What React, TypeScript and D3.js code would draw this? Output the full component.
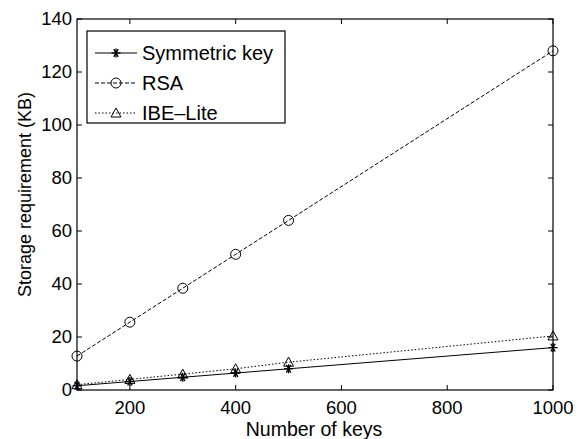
import React, { useEffect, useRef } from 'react';
import * as d3 from 'd3';

const keys = [100, 200, 300, 400, 500, 1000];
const symmetricKey = [1.6, 3.2, 4.8, 6.4, 8, 16];
const rsa = [12.8, 25.6, 38.4, 51.2, 64, 128];
const ibeLite = [2, 4, 6, 8, 10.5, 20.4];
const xTicks = [200, 400, 600, 800, 1000];
const yTicks = [0, 20, 40, 60, 80, 100, 120, 140];

const seriesList = [
    { name: 'Symmetric key', values: symmetricKey, dash: null, marker: 'star' },
    { name: 'RSA', values: rsa, dash: '4,2', marker: 'circle' },
    { name: 'IBE\u2013Lite', values: ibeLite, dash: '1.5,2', marker: 'triangle' },
];

const FONT = 'Liberation Sans, Arial, Helvetica, sans-serif';

const App = () => {
    const svgRef = useRef<SVGSVGElement>(null);

    useEffect(() => {
        const svg = d3.select(svgRef.current);
        svg.selectAll('*').remove();

        const width = 579;
        const height = 439;
        const margin = { top: 19, right: 26, bottom: 49, left: 77 };
        const innerW = width - margin.left - margin.right;
        const innerH = height - margin.top - margin.bottom;

        svg.attr('width', width).attr('height', height);

        const chart = svg.append('g')
            .attr('transform', `translate(${margin.left},${margin.top})`);

        const x = d3.scaleLinear().domain([100, 1000]).range([0, innerW]);
        const y = d3.scaleLinear().domain([0, 140]).range([innerH, 0]);

        // frame + inward ticks on all sides
        chart.append('rect')
            .attr('width', innerW).attr('height', innerH)
            .attr('fill', 'none').attr('stroke', '#000').attr('stroke-width', 1.2);

        const tickLen = 5;
        xTicks.forEach((t) => {
            chart.append('line').attr('x1', x(t)).attr('x2', x(t))
                .attr('y1', innerH).attr('y2', innerH - tickLen).attr('stroke', '#000');
            chart.append('line').attr('x1', x(t)).attr('x2', x(t))
                .attr('y1', 0).attr('y2', tickLen).attr('stroke', '#000');
            chart.append('text')
                .attr('x', x(t)).attr('y', innerH + 24)
                .attr('text-anchor', 'middle')
                .style('font-family', FONT).style('font-size', '18.5px')
                .text(t);
        });
        yTicks.forEach((t) => {
            chart.append('line').attr('x1', 0).attr('x2', tickLen)
                .attr('y1', y(t)).attr('y2', y(t)).attr('stroke', '#000');
            chart.append('line').attr('x1', innerW).attr('x2', innerW - tickLen)
                .attr('y1', y(t)).attr('y2', y(t)).attr('stroke', '#000');
            chart.append('text')
                .attr('x', -5).attr('y', y(t) + 6)
                .attr('text-anchor', 'end')
                .style('font-family', FONT).style('font-size', '18.5px')
                .text(t);
        });

        const drawMarker = (g, type, cx, cy) => {
            if (type === 'circle') {
                g.append('circle').attr('cx', cx).attr('cy', cy).attr('r', 5)
                    .attr('fill', 'none').attr('stroke', '#000').attr('stroke-width', 1);
            } else if (type === 'triangle') {
                const s = 5;
                g.append('path')
                    .attr('d', `M${cx},${cy - s} L${cx + s},${cy + s * 0.8} L${cx - s},${cy + s * 0.8} Z`)
                    .attr('fill', 'none').attr('stroke', '#000').attr('stroke-width', 1);
            } else {
                const s = 4.5;
                [0, 60, 120].forEach((a) => {
                    const r = (a * Math.PI) / 180;
                    g.append('line')
                        .attr('x1', cx - s * Math.cos(r)).attr('y1', cy - s * Math.sin(r))
                        .attr('x2', cx + s * Math.cos(r)).attr('y2', cy + s * Math.sin(r))
                        .attr('stroke', '#000').attr('stroke-width', 1.3);
                });
                g.append('line').attr('x1', cx).attr('x2', cx).attr('y1', cy - s).attr('y2', cy + s)
                    .attr('stroke', '#000').attr('stroke-width', 1.3);
            }
        };

        const line = d3.line<number>()
            .x((d, i) => x(keys[i]))
            .y((d) => y(d));

        seriesList.forEach((s) => {
            chart.append('path')
                .datum(s.values)
                .attr('d', line)
                .attr('fill', 'none')
                .attr('stroke', '#000')
                .attr('stroke-width', 1)
                .attr('stroke-dasharray', s.dash);
            s.values.forEach((v, i) => drawMarker(chart, s.marker, x(keys[i]), y(v)));
        });

        // legend
        const legend = svg.append('g').attr('transform', 'translate(87,31)');
        legend.append('rect').attr('width', 198).attr('height', 92)
            .attr('fill', '#fff').attr('stroke', '#000').attr('stroke-width', 1.2);
        seriesList.forEach((s, i) => {
            const ly = 22 + i * 30;
            legend.append('line').attr('x1', 8).attr('x2', 50).attr('y1', ly).attr('y2', ly)
                .attr('stroke', '#000').attr('stroke-width', 1)
                .attr('stroke-dasharray', s.dash);
            drawMarker(legend, s.marker, 29, ly);
            legend.append('text').attr('x', 55).attr('y', ly + 7)
                .style('font-family', FONT).style('font-size', '20px')
                .text(s.name);
        });

        // axis labels
        svg.append('text')
            .attr('x', margin.left + innerW / 2 - 1).attr('y', height - 3)
            .attr('text-anchor', 'middle')
            .style('font-family', FONT).style('font-size', '19.5px')
            .text('Number of keys');

        svg.append('text')
            .attr('transform', `translate(31,${margin.top + innerH / 2 - 10}) rotate(-90)`)
            .attr('text-anchor', 'middle')
            .style('font-family', FONT).style('font-size', '18px')
            .text('Storage requirement (KB)');
    }, []);

    return <svg ref={svgRef} style={{ position: 'absolute', left: 0, top: 0 }} />;
};

export default App;
